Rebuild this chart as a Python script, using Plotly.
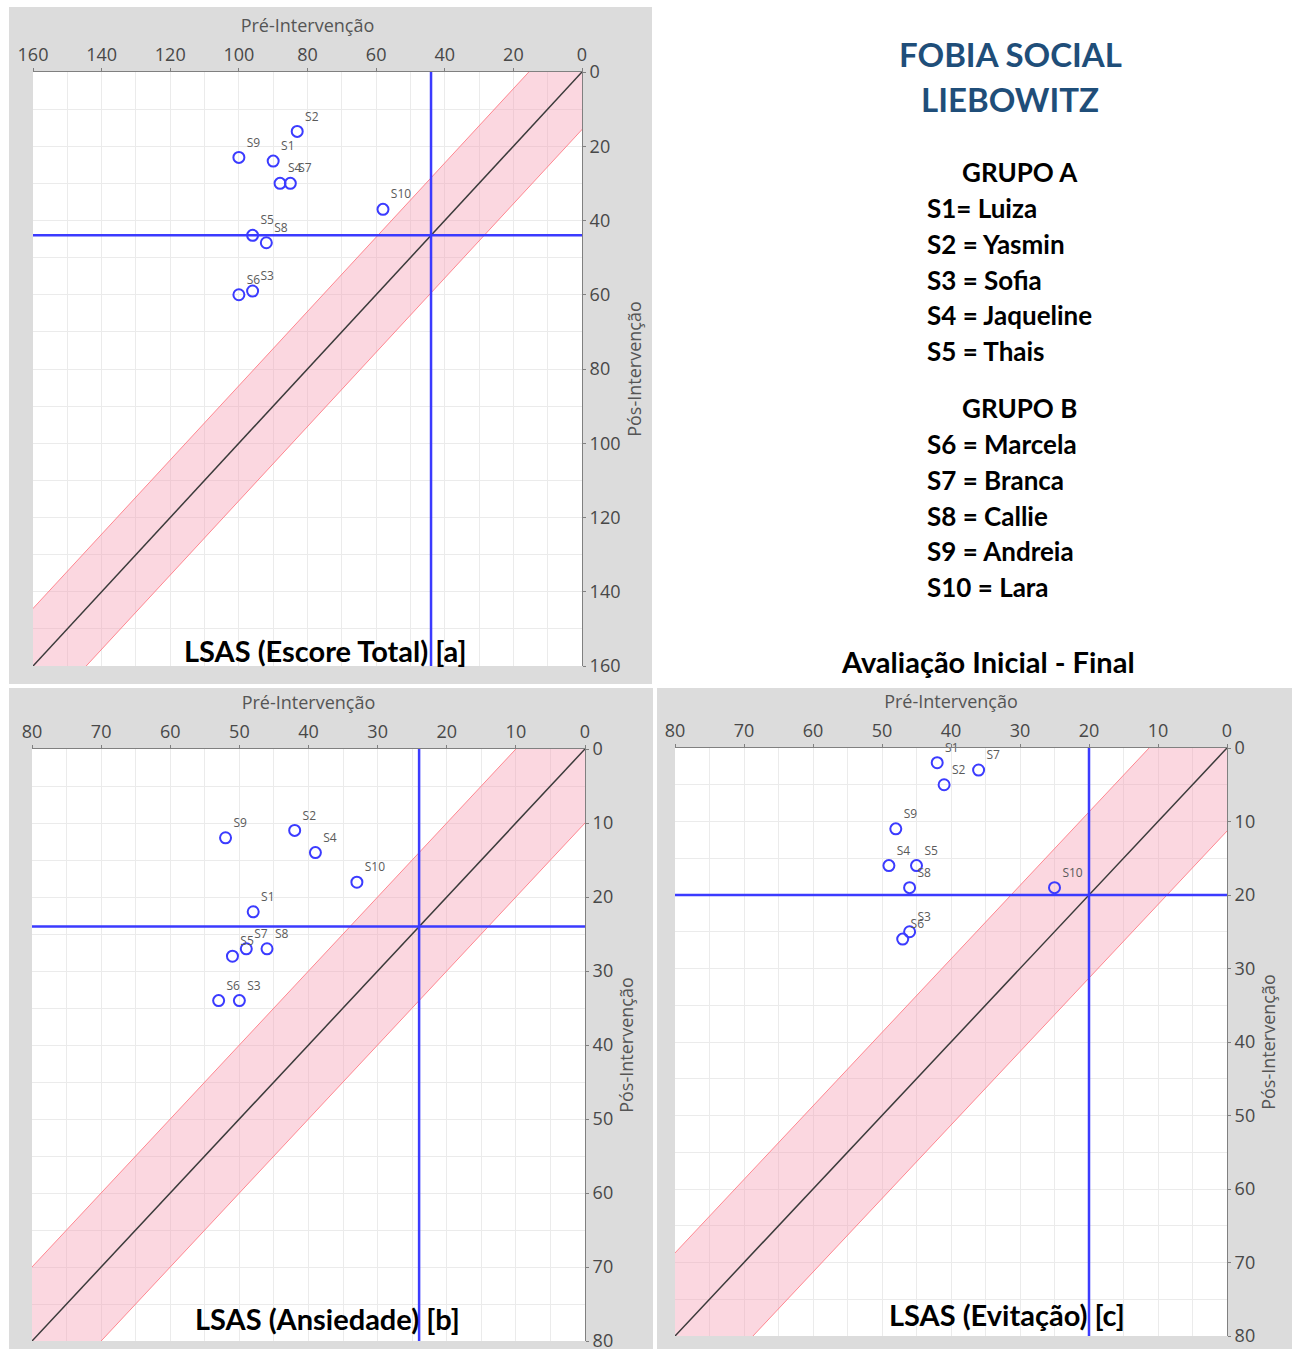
import plotly.graph_objects as go

W, H = 1295, 1349

# Subject labels
subjects = ["S1", "S2", "S3", "S4", "S5", "S6", "S7", "S8", "S9", "S10"]

# LSAS total score (pre, post)
total_pre = [90, 83, 96, 88, 96, 100, 85, 92, 100, 58]
total_post = [24, 16, 59, 30, 44, 60, 30, 46, 23, 37]

# LSAS anxiety subscale (pre, post)
anx_pre = [48, 42, 50, 39, 51, 53, 49, 46, 52, 33]
anx_post = [22, 11, 34, 14, 28, 34, 27, 27, 12, 18]

# LSAS avoidance subscale (pre, post)
avo_pre = [42, 41, 46, 49, 45, 47, 36, 46, 48, 25]
avo_post = [2, 5, 25, 16, 16, 26, 3, 19, 11, 19]

# Axis maxima, clinical cut-offs and reliable-change half widths
scale_max = [160, 80, 80]
cutoff = [44, 24, 20]
rci_half = [15.5, 10, 11.3]
major_dtick = [20, 10, 10]
minor_dtick = [10, 5, 5]

panel_titles = ["LSAS (Escore Total) [a]", "LSAS (Ansiedade) [b]", "LSAS (Evitação) [c]"]

group_a = ["S1= Luiza", "S2 = Yasmin", "S3 = Sofia", "S4 = Jaqueline", "S5 = Thais"]
group_b = ["S6 = Marcela", "S7 = Branca", "S8 = Callie", "S9 = Andreia", "S10 = Lara"]


def px(x):
    return x / W


def py(y):
    return 1 - y / H


# plot areas in pixels: (left, top, right, bottom)
areas = [(33, 72, 582, 666), (32, 749, 585, 1341), (675, 748, 1227, 1336)]
# grey frames around each chart
frames = [(9, 7, 652, 684), (9, 688, 653, 1349), (657, 688, 1292, 1349)]

series = [(total_pre, total_post), (anx_pre, anx_post), (avo_pre, avo_post)]

fig = go.Figure()

BLUE = "#3b3bff"
TICK_FONT = dict(family="Open Sans", size=18, color="#484848")
AX_TITLE_FONT = dict(family="Open Sans", size=18, color="#555555")

for i in range(3):
    n = "" if i == 0 else str(i + 1)
    xa, ya = "x" + n, "y" + n
    m = scale_max[i]
    d = rci_half[i]
    c = cutoff[i]
    pre, post = series[i]

    # reliable change band around the identity line
    fig.add_trace(go.Scatter(x=[-m, 2 * m], y=[-m - d, 2 * m - d], mode="lines",
                             line=dict(color="rgba(255,110,120,0.8)", width=1),
                             xaxis=xa, yaxis=ya, showlegend=False, hoverinfo="skip"))
    fig.add_trace(go.Scatter(x=[-m, 2 * m], y=[-m + d, 2 * m + d], mode="lines",
                             line=dict(color="rgba(255,110,120,0.8)", width=1),
                             fill="tonexty", fillcolor="rgba(245,160,180,0.42)",
                             xaxis=xa, yaxis=ya, showlegend=False, hoverinfo="skip"))
    # identity line
    fig.add_trace(go.Scatter(x=[0, m], y=[0, m], mode="lines",
                             line=dict(color="#3a3a3a", width=1.5),
                             xaxis=xa, yaxis=ya, showlegend=False, hoverinfo="skip"))
    # cut-off lines
    fig.add_trace(go.Scatter(x=[c, c], y=[0, m], mode="lines",
                             line=dict(color=BLUE, width=2.5),
                             xaxis=xa, yaxis=ya, showlegend=False, hoverinfo="skip"))
    fig.add_trace(go.Scatter(x=[0, m], y=[c, c], mode="lines",
                             line=dict(color=BLUE, width=2.5),
                             xaxis=xa, yaxis=ya, showlegend=False, hoverinfo="skip"))
    # subjects
    fig.add_trace(go.Scatter(x=pre, y=post, mode="markers+text", text=subjects,
                             textposition="top right",
                             textfont=dict(family="Open Sans", size=12, color="#5a5a5a"),
                             marker=dict(symbol="circle-open", size=11, color=BLUE,
                                         line=dict(width=2, color=BLUE)),
                             xaxis=xa, yaxis=ya, showlegend=False, cliponaxis=False))

    l, t, r, b = areas[i]
    common = dict(range=[m, 0], dtick=major_dtick[i], tick0=0, automargin=False,
                  showline=True, linecolor="#808080", linewidth=1,
                  ticks="outside", ticklen=3, tickcolor="#808080",
                  ticklabeloverflow="allow",
                  showgrid=True, gridcolor="#ebebeb", gridwidth=1,
                  minor=dict(dtick=minor_dtick[i], tick0=0, showgrid=True,
                             gridcolor="#ebebeb", gridwidth=1),
                  zeroline=False, tickfont=TICK_FONT)
    fig.update_layout(**{
        "xaxis" + n: dict(domain=[px(l), px(r)], side="top", anchor=ya,
                          title=dict(text="Pré-Intervenção", standoff=4, font=AX_TITLE_FONT),
                          **common),
        "yaxis" + n: dict(domain=[py(b), py(t)], side="right", anchor=xa,
                          title=dict(text="Pós-Intervenção", standoff=8, font=AX_TITLE_FONT),
                          **common),
    })

shapes = []
for (l, t, r, b) in frames:
    shapes.append(dict(type="rect", xref="paper", yref="paper",
                       x0=px(l), x1=px(r), y0=py(b), y1=py(t),
                       fillcolor="#dcdcdc", line=dict(width=0), layer="below"))
# white plotting areas on top of the grey frames
for (l, t, r, b) in areas:
    shapes.append(dict(type="rect", xref="paper", yref="paper",
                       x0=px(l), x1=px(r), y0=py(b), y1=py(t),
                       fillcolor="white", line=dict(width=0), layer="below"))

annotations = []
title_pos = [(325, 650), (327, 1318), (1007, 1314)]
for (x, y), txt in zip(title_pos, panel_titles):
    annotations.append(dict(x=px(x), y=py(y), xref="paper", yref="paper", text=txt,
                            showarrow=False, xanchor="center", yanchor="middle",
                            font=dict(family="Lato", size=29, color="#000000", weight="bold")))

HEAD_FONT = dict(family="Lato", size=33, color="#1f4e79", weight="bold")
annotations.append(dict(x=px(1010), y=py(54), xref="paper", yref="paper", text="FOBIA SOCIAL",
                        showarrow=False, xanchor="center", yanchor="middle", font=HEAD_FONT))
annotations.append(dict(x=px(1010), y=py(99), xref="paper", yref="paper", text="LIEBOWITZ",
                        showarrow=False, xanchor="center", yanchor="middle", font=HEAD_FONT))

LEG_FONT = dict(family="Lato", size=26, color="#000000", weight="bold")
annotations.append(dict(x=px(1020), y=py(172), xref="paper", yref="paper", text="GRUPO A",
                        showarrow=False, xanchor="center", yanchor="middle", font=LEG_FONT))
for k, txt in enumerate(group_a):
    annotations.append(dict(x=px(925), y=py(208 + 35.8 * k), xref="paper", yref="paper",
                            text=txt, showarrow=False, xanchor="left", yanchor="middle",
                            font=LEG_FONT))
annotations.append(dict(x=px(1019), y=py(408), xref="paper", yref="paper", text="GRUPO B",
                        showarrow=False, xanchor="center", yanchor="middle", font=LEG_FONT))
for k, txt in enumerate(group_b):
    annotations.append(dict(x=px(925), y=py(444 + 35.8 * k), xref="paper", yref="paper",
                            text=txt, showarrow=False, xanchor="left", yanchor="middle",
                            font=LEG_FONT))
annotations.append(dict(x=px(988), y=py(661), xref="paper", yref="paper",
                        text="Avaliação Inicial - Final", showarrow=False,
                        xanchor="center", yanchor="middle",
                        font=dict(family="Lato", size=29, color="#000000", weight="bold")))

fig.update_layout(width=W, height=H, margin=dict(l=0, r=0, t=0, b=0),
                  paper_bgcolor="white", plot_bgcolor="white",
                  shapes=shapes, annotations=annotations, showlegend=False)

fig.write_html("out.html")
